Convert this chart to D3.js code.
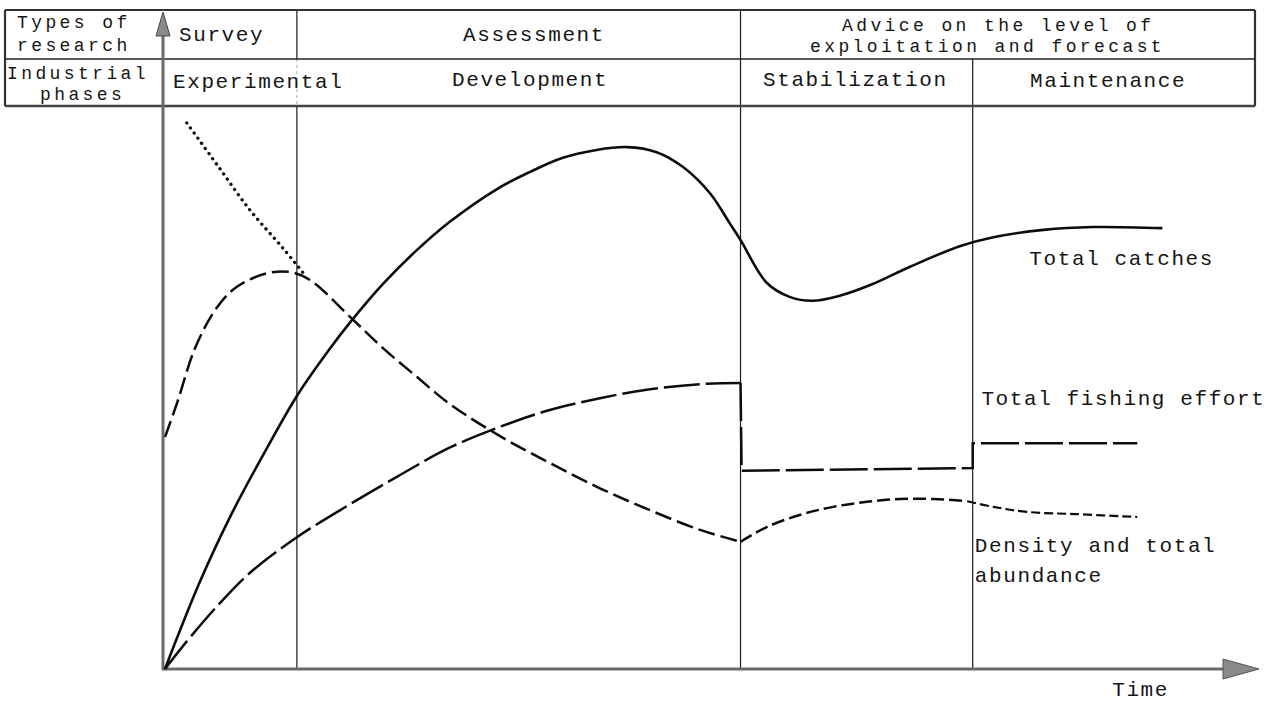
<!DOCTYPE html>
<html><head><meta charset="utf-8">
<script src="https://cdn.jsdelivr.net/npm/d3@7"></script>
<style>
html,body{margin:0;padding:0;background:#fff;}
svg{display:block;}
text{font-family:"Liberation Mono","DejaVu Sans Mono",monospace;font-size:21px;fill:#151515;letter-spacing:1.6px;}
text.small{font-size:18px;letter-spacing:3.4px;}
</style></head>
<body>
<svg id="chart" width="1281" height="705"></svg>
<script>
// ---- DATA (time 0..100, level 0..100; conceptual units) ----
const phaseBounds = [12.1, 52.8, 74.1];           // Survey|Assessment, Development|Stabilization, Stabilization|Maintenance
const researchTypes = ["Survey", "Assessment", ["Advice on the level of", "exploitation and forecast"]];
const industrialPhases = ["Experimental", "Development", "Stabilization", "Maintenance"];
const rowHeaders = [["Types of", "research"], ["Industrial", "phases"]];

const catchesT = [0,1.1,3.2,6.2,9.4,12.1,14.9,17.0,20.0,23.1,26.1,30.5,33.5,36.5,39.6,42.4,45.1,47.5,50.0,51.8,52.8,55.2,57.3,59.4,61.9,64.7,68.3,72.9,76.0,80.6,85.1,91.5];
const catchesV = [0,5.5,15.5,27.9,39.4,48.5,56.3,61.6,68.4,74.4,79.4,85.3,88.3,90.8,92.2,92.7,91.8,89.2,84.5,79.2,76.2,68.6,66.1,65.4,66.3,68.2,71.4,75.1,76.7,78.0,78.5,78.3];

const effortT = [0,1.7,4.8,7.8,12.1,17.0,21.6,26.1,30.7,35.3,39.9,44.5,49.1,52.8];
const effortV = [0,4.2,11.2,17.1,23.4,29.3,34.5,39.3,43.0,46.0,48.1,49.7,50.6,50.8];
const effortStepT = [52.8,52.9,74.1,74.1,89.2];
const effortStepV = [50.8,35.2,35.7,40.1,40.1];

const densityT = [0,1.1,2.8,4.8,6.6,9.4,11.5,13.3,17.0,20.0,23.1,26.1,30.7,35.3,39.9,44.5,49.1,52.8];
const densityV = [41.2,47.2,57.2,64.3,67.9,70.3,70.5,69.1,62.5,57.0,51.9,47.1,41.4,36.6,32.1,28.2,24.7,22.6];
const densityT2 = [52.8,55.2,58.3,61.3,64.4,67.4,70.5,73.6];
const densityV2 = [22.6,25.2,27.4,28.8,29.7,30.2,30.2,29.8];
const densityTailT = [73.6,76.0,79.1,83.7,89.2];
const densityTailV = [29.8,28.8,27.9,27.5,27.0];

const virginT = [2.0,4.8,7.8,10.8,12.7];
const virginV = [97.0,89.5,81.5,74.8,70.3];

const seriesLabels = [
  {text:["Total catches"], t:79.3, v:71.8},
  {text:["Total fishing effort"], t:74.9, v:46.9},
  {text:["Density and total","abundance"], t:74.3, v:20.8},
];
const axisLabel = {text:"Time", t:86.9};

// ---- LAYOUT ----
const svg = d3.select("#chart");
const X0 = 165, X1 = 1255, Y0 = 669, Y1 = 106;
const tableTop = 10, tableMid = 59, tableBot = 106, tableLeft = 5;
const x = d3.scaleLinear().domain([0,100]).range([X0, X1]);
const y = d3.scaleLinear().domain([0,100]).range([Y0, Y1]);

// ---- HEADER TABLE ----
const g = svg.append("g");
const lineC = "#1a1a1a";
const bx = phaseBounds.map(x);
g.append("line").attr("x1",bx[0]).attr("x2",bx[0]).attr("y1",tableTop).attr("y2",tableMid).attr("stroke",lineC).attr("stroke-width",1.2);
g.append("line").attr("x1",bx[0]).attr("x2",bx[0]).attr("y1",tableMid).attr("y2",tableBot).attr("stroke","#aaa").attr("stroke-width",1).attr("stroke-dasharray","3,3");
g.append("line").attr("x1",bx[0]).attr("x2",bx[0]).attr("y1",tableBot).attr("y2",Y0).attr("stroke",lineC).attr("stroke-width",1.2);
[bx[1], bx[2]].forEach((bb,i)=>{
  g.append("line").attr("x1",bb).attr("x2",bb).attr("y1", i===0?tableTop:tableMid).attr("y2",Y0).attr("stroke",lineC).attr("stroke-width",1.2);
});
g.append("line").attr("x1",tableLeft).attr("x2",X1).attr("y1",tableTop).attr("y2",tableTop).attr("stroke","#333").attr("stroke-width",2.2);
g.append("line").attr("x1",tableLeft).attr("x2",X1).attr("y1",tableMid).attr("y2",tableMid).attr("stroke","#222").attr("stroke-width",1.4);
g.append("line").attr("x1",tableLeft).attr("x2",X1).attr("y1",tableBot).attr("y2",tableBot).attr("stroke","#444").attr("stroke-width",2.6);
g.append("line").attr("x1",tableLeft).attr("x2",tableLeft).attr("y1",tableTop).attr("y2",tableBot).attr("stroke","#333").attr("stroke-width",2.2);
g.append("line").attr("x1",X1).attr("x2",X1).attr("y1",tableTop).attr("y2",tableBot).attr("stroke","#333").attr("stroke-width",2.2);

const T = (s, xx, yy, cls) => g.append("text").attr("x",xx).attr("y",yy).attr("class",cls||null).text(s);
T(rowHeaders[0][0], 17, 28, "small"); T(rowHeaders[0][1], 17, 51, "small");
T(rowHeaders[1][0], 7, 79, "small"); T(rowHeaders[1][1], 40, 100, "small");
T(researchTypes[0], 179, 41);
T(researchTypes[1], 463, 41);
T(researchTypes[2][0], 842, 31, "small");
T(researchTypes[2][1], 810, 52, "small");
T(industrialPhases[0], 173, 88);
T(industrialPhases[1], 452, 86);
T(industrialPhases[2], 763, 86);
T(industrialPhases[3], 1030, 87);

// ---- AXES ----
const axC = "#6a6a6a";
g.append("line").attr("x1",X0-2).attr("x2",X0-2).attr("y1",Y0+1).attr("y2",33).attr("stroke",axC).attr("stroke-width",3);
g.append("path").attr("d",`M${X0-2},12 L${X0-9},36 L${X0+5},36 Z`).attr("fill","#8a8a8a").attr("stroke","#444").attr("stroke-width",1);
g.append("line").attr("x1",X0-3).attr("x2",1226).attr("y1",Y0).attr("y2",Y0).attr("stroke",axC).attr("stroke-width",3);
g.append("path").attr("d",`M1259,${Y0} L1223,${Y0-10} L1223,${Y0+10} Z`).attr("fill","#8a8a8a").attr("stroke","#555").attr("stroke-width",1);

// ---- CURVES ----
const zip = (ts, vs) => ts.map((t,i)=>[t, vs[i]]);
const smooth = d3.line().x(d=>x(d[0])).y(d=>y(d[1])).curve(d3.curveCatmullRom.alpha(0.5));
const straight = d3.line().x(d=>x(d[0])).y(d=>y(d[1])).curve(d3.curveLinear);
const draw = (gen, pts, dash, w, cap) => g.append("path").attr("d", gen(pts)).attr("fill","none")
  .attr("stroke","#0d0d0d").attr("stroke-width", w||2.4).attr("stroke-dasharray", dash||null).attr("stroke-linecap", cap||"butt");

draw(smooth, zip(catchesT, catchesV), null, 2.6);
draw(smooth, zip(effortT, effortV), "36,6", 2.5);
draw(straight, zip(effortStepT, effortStepV), "38,6", 2.5);
draw(smooth, zip(densityT, densityV), "17,6", 2.5);
draw(smooth, zip(densityT2, densityV2), "13,5", 2.5);
draw(smooth, zip(densityTailT, densityTailV), "9,4", 2.2);
draw(smooth, zip(virginT, virginV), "0.1,6.2", 3.3, "round");

// ---- LABELS ----
seriesLabels.forEach(l => l.text.forEach((s,i) => T(s, x(l.t), y(l.v) + i*30)));
T(axisLabel.text, x(axisLabel.t), 696);
</script>
</body></html>
